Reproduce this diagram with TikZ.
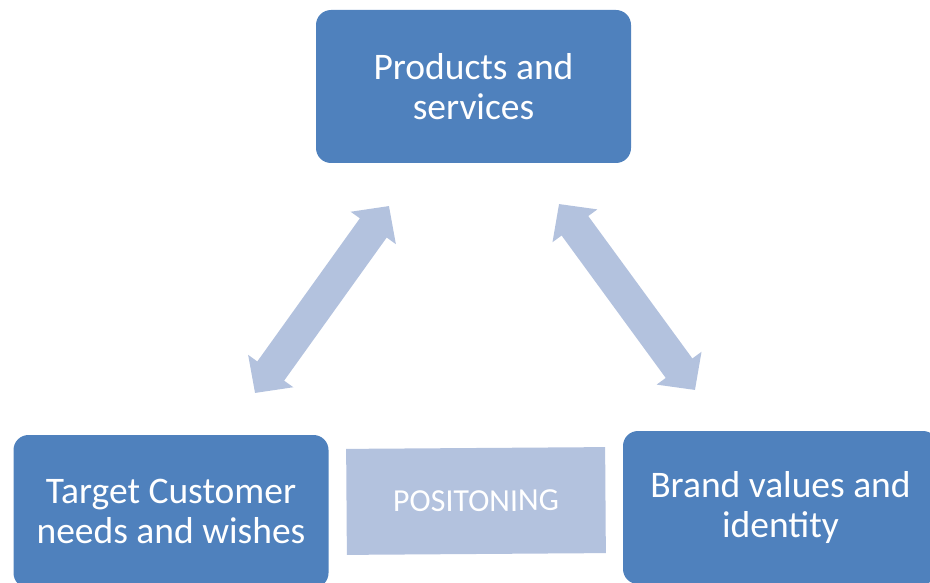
\documentclass[tikz,border=0pt]{standalone}
\usepackage{fontspec}
\setmainfont{Carlito}
\usetikzlibrary{arrows.meta}
\definecolor{boxblue}{HTML}{4F81BD}
\definecolor{lightblue}{HTML}{B3C2DE}
\begin{document}
\begin{tikzpicture}[x=1pt,y=-1pt,
  mainbox/.style={fill=boxblue, draw=none, rounded corners=15pt, minimum width=315pt, minimum height=153pt,
    text=white, align=center, font=\fontsize{37.5}{40}\selectfont, inner sep=0pt},
  posbox/.style={fill=lightblue, draw=none, minimum width=259pt, minimum height=106pt,
    text=white, font=\fontsize{32}{34}\selectfont, inner sep=0pt},
  bigarrow/.style={draw=lightblue, line width=33pt, {Triangle[width=54pt,length=27pt]}-{Triangle[width=54pt,length=27pt]}}
]
\useasboundingbox (0,0) rectangle (930,583);
\node[mainbox] (prod) at (473.5,86.5) {Products and\\services};
\node[mainbox] (cust) at (171,511.5) {Target Customer\\needs and wishes};
\node[mainbox] (brand) at (780.5,507.5) {Brand values and\\identity};
\node[posbox, rotate=0.4] (pos) at (476,501) {POSITONING};
\coordinate (a1s) at (255,393);
\coordinate (a1e) at (389,206);
\coordinate (a2s) at (559,204);
\coordinate (a2e) at (695,390);
\draw[bigarrow] (a1s) -- (a1e);
\draw[bigarrow] (a2s) -- (a2e);
\end{tikzpicture}
\end{document}
